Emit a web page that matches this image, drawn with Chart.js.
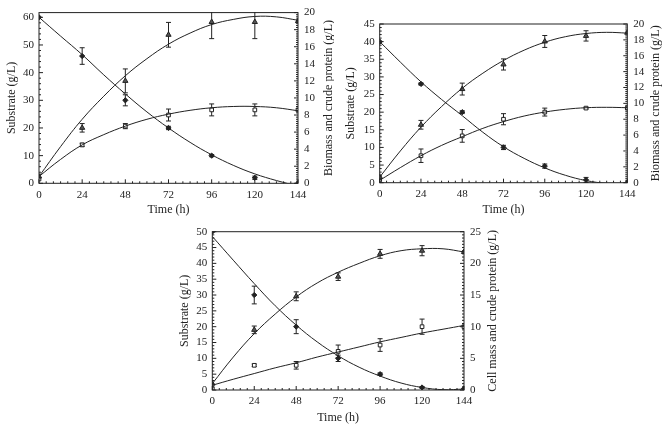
<!DOCTYPE html>
<html>
<head>
<meta charset="utf-8">
<script src="https://cdn.jsdelivr.net/npm/chart.js@4.4.1/dist/chart.umd.min.js"></script>
<style>
html,body{margin:0;padding:0;background:#fff;}
#wrap{position:relative;width:668px;height:428px;overflow:hidden;background:#fff;}
canvas{position:absolute;}
</style>
</head>
<body>
<div id="wrap">
<canvas id="c3" width="340" height="214" style="left:160px;top:214px;"></canvas>
<canvas id="c1" width="334" height="222" style="left:0px;top:0px;"></canvas>
<canvas id="c2" width="334" height="222" style="left:334px;top:0px;"></canvas>
</div>
<script>
// ---------- DATA ----------
const hours = [0, 24, 48, 72, 96, 120, 144];
const fitHours = [0, 12, 24, 36, 48, 60, 72, 84, 96, 108, 120, 132, 144];
const xTicks = [0, 24, 48, 72, 96, 120, 144];

// Panel 1 (top left)
const p1LeftTicks = [0, 10, 20, 30, 40, 50, 60];
const p1RightTicks = [0, 2, 4, 6, 8, 10, 12, 14, 16, 18, 20];
const p1Substrate = [60, 46, 30, 20, 10, 2, 0];
const p1SubstrateErr = [0, 3, 2, 0.6, 0.4, 0.6, 0];
const p1Triangle = [0.8, 6.5, 12.0, 17.4, 18.9, 18.9, 19.0];
const p1TriangleErr = [0, 0.5, 1.4, 1.45, 1.95, 1.95, 0];
const p1Square = [0.5, 4.5, 6.7, 8.0, 8.6, 8.6, 8.6];
const p1SquareErr = [0, 0.2, 0.3, 0.7, 0.7, 0.7, 0];
const p1SubstrateFit = [60, 53.2, 46.5, 39.2, 32.3, 25.8, 20.0, 14.8, 10.3, 6.5, 3.4, 1.0, -1.0];
const p1TriangleFit = [0.8, 4.3, 7.5, 10.2, 12.6, 14.6, 16.3, 17.6, 18.6, 19.2, 19.55, 19.5, 19.1];
const p1SquareFit = [0.8, 2.8, 4.5, 5.7, 6.7, 7.5, 8.1, 8.55, 8.85, 9.0, 9.0, 8.85, 8.5];

// Panel 2 (top right)
const p2LeftTicks = [0, 5, 10, 15, 20, 25, 30, 35, 40, 45];
const p2RightTicks = [0, 2, 4, 6, 8, 10, 12, 14, 16, 18, 20];
const p2Substrate = [40, 28, 20, 10, 4.7, 0.8, 0];
const p2SubstrateErr = [0, 0.3, 0.4, 0.6, 0.6, 0.7, 0];
const p2Triangle = [0.75, 7.3, 11.8, 14.9, 17.8, 18.5, 18.9];
const p2TriangleErr = [0, 0.55, 0.75, 0.7, 0.75, 0.65, 0];
const p2Square = [0.35, 3.4, 5.9, 8.0, 8.9, 9.4, 9.4];
const p2SquareErr = [0, 0.85, 0.8, 0.7, 0.5, 0.1, 0];
const p2SubstrateFit = [40, 34.2, 28.6, 23.6, 19.0, 14.3, 10.2, 6.9, 4.2, 2.1, 0.6, -0.2, -0.5];
const p2TriangleFit = [0.7, 4.0, 7.0, 9.6, 11.9, 13.8, 15.4, 16.7, 17.7, 18.4, 18.8, 18.95, 18.85];
const p2SquareFit = [0.3, 1.9, 3.4, 4.7, 5.8, 6.85, 7.7, 8.4, 8.9, 9.25, 9.45, 9.5, 9.45];

// Panel 3 (bottom)
const p3LeftTicks = [0, 5, 10, 15, 20, 25, 30, 35, 40, 45, 50];
const p3RightTicks = [0, 5, 10, 15, 20, 25];
const p3Substrate = [50, 30, 20, 10, 5, 0.8, 0.5];
const p3SubstrateErr = [0, 2.8, 2.2, 1.0, 0.4, 0.3, 0];
const p3Triangle = [1.0, 9.5, 14.8, 17.9, 21.5, 22.0, 21.8];
const p3TriangleErr = [0, 0.6, 0.7, 0.6, 0.7, 0.8, 0];
const p3Square = [0.2, 3.9, 3.9, 6.1, 7.1, 10.0, 10.0];
const p3SquareErr = [0, 0.2, 0.6, 1.0, 1.0, 1.2, 0];
const p3SubstrateFit = [48.5, 41.0, 33.6, 26.6, 20.5, 15.2, 10.8, 7.2, 4.4, 2.2, 0.8, 0.1, 0.3];
const p3TriangleFit = [1.0, 5.2, 8.9, 12.0, 14.7, 16.9, 18.6, 20.0, 21.2, 22.0, 22.3, 22.3, 21.8];
const p3SquareFit = [0.75, 1.7, 2.6, 3.5, 4.3, 5.2, 6.0, 6.8, 7.6, 8.3, 9.0, 9.6, 10.2];

const xTitle = 'Time (h)';
const leftTitle = 'Substrate (g/L)';
const rightTitle12 = 'Biomass and crude protein (g/L)';
const rightTitle3 = 'Cell mass and crude protein (g/L)';

// ---------- STYLE / PLUGINS ----------
const INK = '#222';
Chart.defaults.font.family = '"Liberation Serif", "Times New Roman", "DejaVu Serif", serif';
Chart.defaults.color = INK;

const pts = (xs, ys) => xs.map((x, i) => ({x: x, y: ys[i]}));

const errorBars = {
  id: 'errorBars',
  beforeDatasetsDraw(chart) {
    const {ctx, chartArea: a} = chart;
    ctx.save();
    ctx.beginPath();
    ctx.rect(a.left, a.top - 0.5, a.right - a.left, a.bottom - a.top + 1);
    ctx.clip();
    ctx.strokeStyle = INK;
    ctx.lineWidth = 1;
    chart.data.datasets.forEach((ds, i) => {
      if (!ds.errors) return;
      const meta = chart.getDatasetMeta(i);
      const ys = chart.scales[ds.yAxisID];
      ds.data.forEach((p, j) => {
        const e = ds.errors[j];
        if (!e) return;
        const px = meta.data[j].x;
        const t = ys.getPixelForValue(p.y + e);
        const b = ys.getPixelForValue(p.y - e);
        ctx.beginPath();
        ctx.moveTo(px, t); ctx.lineTo(px, b);
        ctx.moveTo(px - 2.5, t); ctx.lineTo(px + 2.5, t);
        ctx.moveTo(px - 2.5, b); ctx.lineTo(px + 2.5, b);
        ctx.stroke();
      });
    });
    ctx.restore();
  }
};

const frameTicks = {
  id: 'frameTicks',
  afterDatasetsDraw(chart, args, opts) {
    const {ctx, chartArea: a} = chart;
    ctx.save();
    ctx.strokeStyle = INK;
    ctx.lineWidth = 1;
    ctx.strokeRect(a.left, a.top, a.right - a.left, a.bottom - a.top);
    const axis = (scale, majors, minorStep, side) => {
      ctx.beginPath();
      for (let k = 0; ; k++) {
        const v = scale.min + k * minorStep;
        if (v > scale.max + 1e-9) break;
        const isMajor = majors.some(m => Math.abs(m - v) < 1e-6);
        const len = isMajor ? 4 : 2;
        const p = scale.getPixelForValue(v);
        if (side === 'bottom') { ctx.moveTo(p, a.bottom); ctx.lineTo(p, a.bottom - len); }
        if (side === 'left') { ctx.moveTo(a.left, p); ctx.lineTo(a.left + len, p); }
        if (side === 'right') { ctx.moveTo(a.right, p); ctx.lineTo(a.right - len, p); }
      }
      ctx.stroke();
    };
    axis(chart.scales.x, opts.xMajor, opts.xMinor, 'bottom');
    axis(chart.scales.y, opts.yMajor, opts.yMinor, 'left');
    axis(chart.scales.y2, opts.y2Major, opts.y2Minor, 'right');
    ctx.restore();
  },
  afterDraw(chart, args, opts) {
    const {ctx, chartArea: a} = chart;
    ctx.save();
    ctx.font = '12px "Liberation Serif", "Times New Roman", serif';
    ctx.fillStyle = INK;
    ctx.translate(opts.rightTitleX, (a.top + a.bottom) / 2);
    ctx.rotate(-Math.PI / 2);
    ctx.textAlign = 'center';
    ctx.textBaseline = 'middle';
    ctx.fillText(opts.rightTitle, 0, 0);
    ctx.restore();
  }
};

function makePanel(id, P) {
  const canvas = document.getElementById(id);
  const W = canvas.width, H = canvas.height;
  const fixedTicks = (vals) => (scale) => { scale.ticks = vals.map(v => ({value: v})); };
  const marker = (style, r, fill) => ({
    showLine: false, pointStyle: style, pointRadius: r, pointHoverRadius: r,
    pointBackgroundColor: fill, pointBorderColor: INK, pointBorderWidth: 1
  });
  const fit = (yAxisID, data) => ({
    data: pts(fitHours, data), yAxisID: yAxisID, showLine: true, tension: 0.4,
    borderColor: INK, borderWidth: 1, pointRadius: 0, pointHoverRadius: 0, fill: false
  });
  const tickOpts = (pad) => ({padding: pad, font: {size: 11}, color: INK, autoSkip: false, maxRotation: 0});
  new Chart(canvas, {
    type: 'scatter',
    data: {
      datasets: [
        fit('y', P.subFit),
        fit('y2', P.triFit),
        fit('y2', P.sqFit),
        Object.assign({data: pts(hours, P.sub), errors: P.subErr, yAxisID: 'y'}, marker('rectRot', 2.6, INK)),
        Object.assign({data: pts(hours, P.tri), errors: P.triErr, yAxisID: 'y2'}, marker('triangle', 3, '#555')),
        Object.assign({data: pts(hours, P.sq), errors: P.sqErr, yAxisID: 'y2'}, marker('rect', 2.6, '#fff'))
      ]
    },
    options: {
      responsive: false,
      animation: false,
      events: [],
      layout: {padding: {top: P.T, left: 0, right: 0, bottom: 0}},
      plugins: {
        legend: {display: false},
        tooltip: {enabled: false},
        frameTicks: {
          xMajor: xTicks, xMinor: 4,
          yMajor: P.leftTicks, yMinor: P.leftMinor,
          y2Major: P.rightTicks, y2Minor: P.rightMinor,
          rightTitle: P.rightTitle, rightTitleX: P.rtX
        }
      },
      scales: {
        x: {
          type: 'linear', position: 'bottom', min: 0, max: 144,
          afterBuildTicks: fixedTicks(xTicks),
          afterFit: (s) => { s.height = H - P.B; },
          grid: {display: false, drawTicks: false},
          border: {display: false},
          ticks: tickOpts(5),
          title: {display: true, text: xTitle, font: {size: 12}, color: INK, padding: {top: 0, bottom: P.xtPad}}
        },
        y: {
          type: 'linear', position: 'left', min: 0, max: P.leftMax,
          afterBuildTicks: fixedTicks(P.leftTicks),
          afterFit: (s) => { s.width = P.L; },
          grid: {display: false, drawTicks: false},
          border: {display: false},
          ticks: tickOpts(5),
          title: {display: true, text: leftTitle, font: {size: 12}, color: INK, padding: {top: P.ltPad, bottom: 0}}
        },
        y2: {
          type: 'linear', position: 'right', min: 0, max: P.rightMax,
          afterBuildTicks: fixedTicks(P.rightTicks),
          afterFit: (s) => { s.width = W - P.R; },
          grid: {display: false, drawTicks: false},
          border: {display: false},
          ticks: tickOpts(6)
        }
      }
    },
    plugins: [errorBars, frameTicks]
  });
}

makePanel('c1', {
  L: 39, R: 298, T: 11.7, B: 183.3, ltPad: 4.8, xtPad: 4.8, rtX: 329,
  leftMax: 61.7, rightMax: 20, leftTicks: p1LeftTicks, rightTicks: p1RightTicks,
  leftMinor: 2, rightMinor: 0.25, rightTitle: rightTitle12,
  sub: p1Substrate, subErr: p1SubstrateErr, tri: p1Triangle, triErr: p1TriangleErr,
  sq: p1Square, sqErr: p1SquareErr, subFit: p1SubstrateFit, triFit: p1TriangleFit, sqFit: p1SquareFit
});
makePanel('c2', {
  L: 45.7, R: 293.3, T: 24, B: 182.7, ltPad: 9.5, xtPad: 4.8, rtX: 321.7,
  leftMax: 45, rightMax: 20, leftTicks: p2LeftTicks, rightTicks: p2RightTicks,
  leftMinor: 1, rightMinor: 0.25, rightTitle: rightTitle12,
  sub: p2Substrate, subErr: p2SubstrateErr, tri: p2Triangle, triErr: p2TriangleErr,
  sq: p2Square, sqErr: p2SquareErr, subFit: p2SubstrateFit, triFit: p2TriangleFit, sqFit: p2SquareFit
});
makePanel('c3', {
  L: 52.3, R: 304, T: 17.7, B: 176, ltPad: 17.8, xtPad: 2.5, rtX: 333,
  leftMax: 50, rightMax: 25, leftTicks: p3LeftTicks, rightTicks: p3RightTicks,
  leftMinor: 1, rightMinor: 0.5, rightTitle: rightTitle3,
  sub: p3Substrate, subErr: p3SubstrateErr, tri: p3Triangle, triErr: p3TriangleErr,
  sq: p3Square, sqErr: p3SquareErr, subFit: p3SubstrateFit, triFit: p3TriangleFit, sqFit: p3SquareFit
});
</script>
</body>
</html>
